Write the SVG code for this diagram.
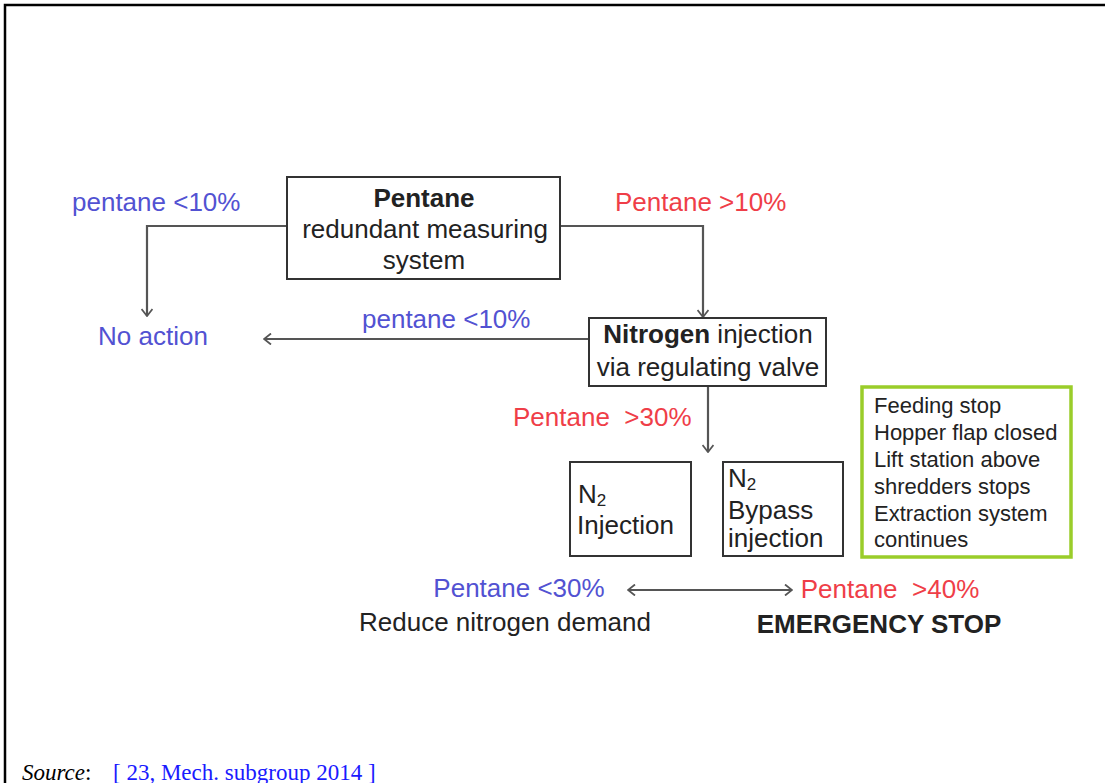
<svg xmlns="http://www.w3.org/2000/svg" width="1105" height="783" viewBox="0 0 1105 783">
<style>
  text { font-family: "Liberation Sans", Arial, sans-serif; font-size: 26px; fill: #222; }
  .blue { fill: #5252d2; }
  .red { fill: #ef3e48; }
  .bold { font-weight: bold; }
  .box { fill: #fff; stroke: #333; stroke-width: 2; }
  .green { fill: #fff; stroke: #9acd2a; stroke-width: 3.5; }
  .conn { fill: none; stroke: #555; stroke-width: 2.2; }
  .small { font-size: 22px; }
  .sub { font-size: 17px; }
  .src { font-family: "Liberation Serif", "Times New Roman", serif; font-size: 23px; fill: #000; }
</style>
<defs>
  <marker id="arr" viewBox="0 0 12 12" refX="11" refY="6" markerWidth="12" markerHeight="12" markerUnits="userSpaceOnUse" orient="auto-start-reverse">
    <path d="M4,0.5 L11,6 L4,11.5" fill="none" stroke="#555" stroke-width="1.8"/>
  </marker>
</defs>
<rect width="1105" height="783" fill="#fff"/>
<path d="M5,783 V5 H1105" fill="none" stroke="#000" stroke-width="2.5"/>

<g id="connectors">
  <path class="conn" d="M287,226 H147 V316" marker-end="url(#arr)"/>
  <path class="conn" d="M560,226 H703 V317" marker-end="url(#arr)"/>
  <path class="conn" d="M589,339 H264" marker-end="url(#arr)"/>
  <path class="conn" d="M708,386 V452" marker-end="url(#arr)"/>
  <path class="conn" d="M628,590 H792" stroke-width="3" marker-start="url(#arr)" marker-end="url(#arr)"/>
</g>

<g id="labels">
  <text class="blue" x="72" y="211">pentane &lt;10%</text>
  <text class="red" x="615" y="211">Pentane &gt;10%</text>
  <text class="blue" x="362" y="328">pentane &lt;10%</text>
  <text class="red" x="513" y="426" xml:space="preserve">Pentane  &gt;30%</text>
</g>

<g id="pentane">
  <rect class="box" x="287" y="177" width="273" height="102"/>
  <text class="bold" x="424" y="207" text-anchor="middle">Pentane</text>
  <text x="425" y="238" text-anchor="middle">redundant measuring</text>
  <text x="424" y="269" text-anchor="middle">system</text>
</g>

<g id="no-action">
  <text class="blue" x="98" y="345">No action</text>
</g>

<g id="nitrogen">
  <rect class="box" x="589" y="318" width="237" height="68"/>
  <text x="708" y="343" text-anchor="middle"><tspan class="bold">Nitrogen</tspan> injection</text>
  <text x="708" y="376" text-anchor="middle">via regulating valve</text>
</g>

<g id="n2-injection">
  <rect class="box" x="570" y="462" width="121" height="94"/>
  <text x="578" y="503">N<tspan class="sub" dy="3">2</tspan></text>
  <text x="577" y="534">Injection</text>
</g>

<g id="n2-bypass">
  <rect class="box" x="723" y="462" width="120" height="94"/>
  <text x="728" y="487">N<tspan class="sub" dy="3">2</tspan></text>
  <text x="728" y="519">Bypass</text>
  <text x="728" y="547">injection</text>
</g>

<g id="emergency-actions">
  <rect class="green" x="862" y="387" width="209" height="170"/>
  <text class="small" x="874" y="413">Feeding stop</text>
  <text class="small" x="874" y="440">Hopper flap closed</text>
  <text class="small" x="874" y="467">Lift station above</text>
  <text class="small" x="874" y="494">shredders stops</text>
  <text class="small" x="874" y="521">Extraction system</text>
  <text class="small" x="874" y="547">continues</text>
</g>

<g id="reduce">
  <text class="blue" x="519" y="597" text-anchor="middle">Pentane &lt;30%</text>
  <text x="505" y="631" text-anchor="middle">Reduce nitrogen demand</text>
</g>

<g id="emergency-stop">
  <text class="red" x="890" y="598" text-anchor="middle" xml:space="preserve">Pentane  &gt;40%</text>
  <text class="bold" x="879" y="633" text-anchor="middle">EMERGENCY STOP</text>
</g>

<g id="source">
  <text class="src" x="22" y="780"><tspan font-style="italic">Source</tspan>:</text>
  <text class="src" x="113" y="780" style="fill:#1a1aff">[ 23, Mech. subgroup 2014 ]</text>
</g>
</svg>
